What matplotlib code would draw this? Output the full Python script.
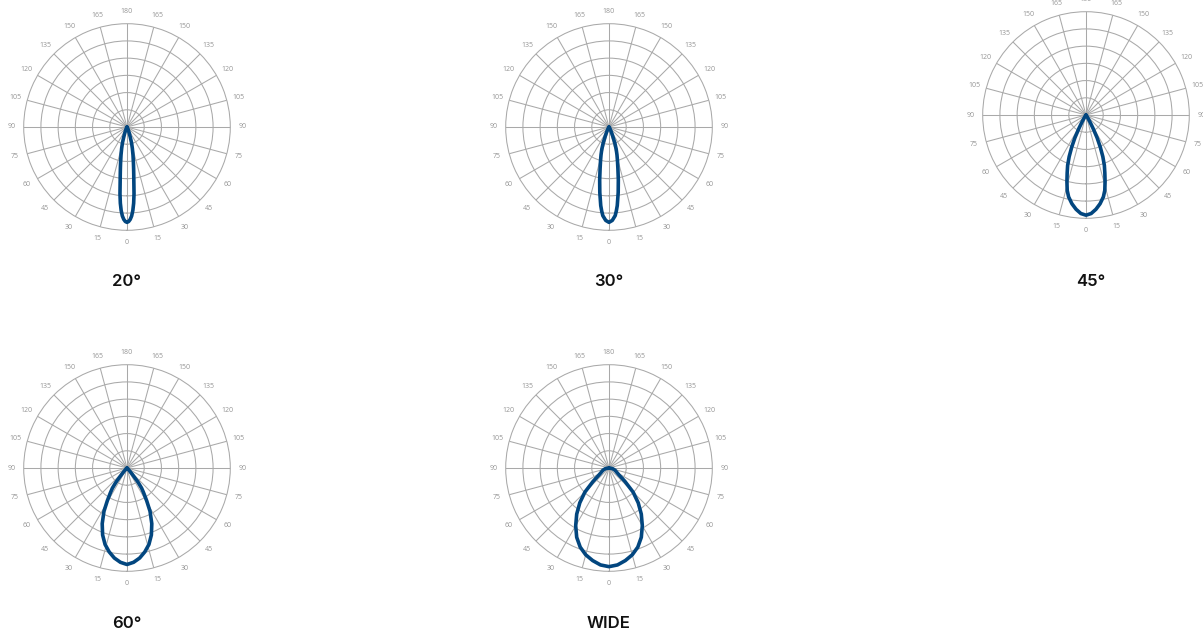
import numpy as np
import matplotlib
matplotlib.use("Agg")
import matplotlib.pyplot as plt

# ---- data (relative intensity, fraction of outer ring), half-curves, mirrored ----
titles = ["20°", "30°", "45°", "60°", "WIDE"]

ang_20 = [0, 1, 2, 3, 4, 5, 6, 7, 8, 9, 10, 12, 14, 16, 18, 20, 24, 30, 40, 90]
val_20 = [0.923, 0.915, 0.895, 0.862, 0.810, 0.740, 0.650, 0.545, 0.470, 0.410,
          0.360, 0.280, 0.215, 0.160, 0.100, 0.065, 0.030, 0.010, 0.0, 0.0]

ang_30 = [0, 2, 4, 5, 6, 8, 10, 12, 14, 16, 18, 20, 22, 24, 28, 34, 45, 90]
val_30 = [0.923, 0.905, 0.860, 0.815, 0.765, 0.640, 0.520, 0.415, 0.340, 0.280,
          0.225, 0.165, 0.100, 0.065, 0.030, 0.010, 0.0, 0.0]

ang_45 = [0, 3, 6, 9, 12, 14, 16, 18, 20, 22, 24, 26, 28, 30, 33, 38, 45, 90]
val_45 = [0.970, 0.955, 0.918, 0.870, 0.810, 0.752, 0.670, 0.590, 0.520, 0.435,
          0.340, 0.245, 0.140, 0.070, 0.030, 0.010, 0.0, 0.0]

ang_60 = [0, 4, 8, 12, 16, 20, 24, 28, 31, 34, 36, 38, 40, 43, 50, 60, 90]
val_60 = [0.934, 0.915, 0.880, 0.830, 0.770, 0.690, 0.590, 0.475, 0.370, 0.285,
          0.240, 0.170, 0.080, 0.030, 0.010, 0.0, 0.0]

ang_wide = [0, 5, 10, 15, 20, 25, 30, 35, 40, 45, 50, 55, 60, 70, 80, 90]
val_wide = [0.955, 0.942, 0.910, 0.870, 0.815, 0.740, 0.645, 0.545, 0.440, 0.330,
            0.200, 0.120, 0.090, 0.062, 0.035, 0.0]

angles = [ang_20, ang_30, ang_45, ang_60, ang_wide]
values = [val_20, val_30, val_45, val_60, val_wide]

grid_angles = list(range(0, 360, 15))
grid_labels = [str(a if a <= 180 else 360 - a) for a in grid_angles]
ring_levels = [1/6, 2/6, 3/6, 4/6, 5/6]

# ---- layout (pixels) ----
W, H = 1203, 636
R = 103.3
centers = [(127, 127), (609, 127), (1086, 115), (127, 468), (609, 468)]
title_pos = [(127, 282), (609, 282), (1091, 282), (127, 623), (609, 623)]

GRID = "#a9a9a9"
LABEL = "#959595"
BLUE = "#02467f"

fig = plt.figure(figsize=(W / 100, H / 100), dpi=100)
fig.patch.set_facecolor("white")

for i in range(5):
    cx, cy = centers[i]
    ax = fig.add_axes([(cx - R) / W, (H - cy - R) / H, 2 * R / W, 2 * R / H],
                      projection="polar")
    ax.set_theta_zero_location("S")
    ax.set_ylim(0, 1)
    ax.set_yticks(ring_levels)
    ax.set_yticklabels([])
    ax.set_thetagrids(grid_angles, grid_labels)
    ax.tick_params(axis="x", pad=2, length=0, labelsize=5, labelcolor=LABEL)
    for lab in ax.get_xticklabels():
        lab.set_family("Open Sans")
    ax.grid(True, color=GRID, linewidth=0.75)
    ax.spines["polar"].set_color(GRID)
    ax.spines["polar"].set_linewidth(0.75)
    ax.set_facecolor("white")

    a = np.array(angles[i], dtype=float)
    v = np.array(values[i], dtype=float)
    th = np.deg2rad(np.concatenate([-a[::-1], a[1:]]))
    rr = np.concatenate([v[::-1], v[1:]])
    ax.plot(th, rr, color=BLUE, linewidth=2.6, solid_joinstyle="round",
            solid_capstyle="round", zorder=5)

    tx, ty = title_pos[i]
    fig.text(tx / W, 1 - ty / H, titles[i], ha="center", va="center",
             fontsize=12, fontweight="semibold", family="Inter", color="#111111")

fig.savefig("out.png", dpi=100, facecolor="white")
